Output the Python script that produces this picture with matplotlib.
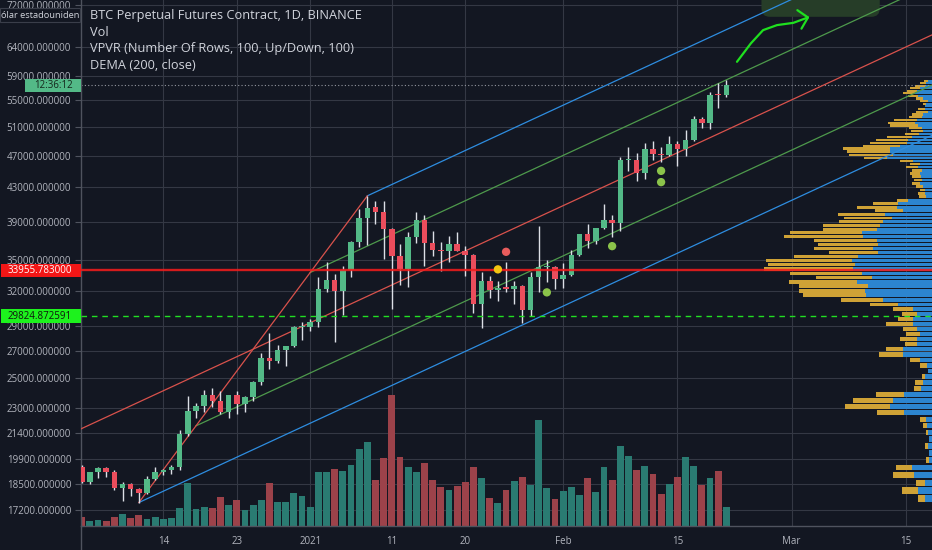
import numpy as np
import pandas as pd
import matplotlib
matplotlib.use('Agg')
import matplotlib.pyplot as plt
import matplotlib.dates as mdates
from matplotlib.patches import Rectangle, FancyBboxPatch
from matplotlib.lines import Line2D

plt.rcParams['font.family'] = ['Open Sans', 'DejaVu Sans']

# ---------------- data ----------------
dates = pd.date_range('2020-12-04', '2021-02-21', freq='D')

opens = [19422, 18650, 19148, 19359, 19166, 18324, 18541, 18254, 18036, 18808,
         19175, 19273, 19426, 21335, 22797, 23107, 23821, 23455, 22719, 23810,
         23232, 23729, 24712, 26493, 26281, 27079, 27385, 28875, 28923, 29331,
         32176, 33000, 31989, 33950, 36769, 39432, 40586, 40088, 38150, 35410,
         34049, 37371, 39145, 36737, 35995, 35825, 36622, 35901, 35468, 30852,
         32950, 32078, 32259, 32251, 32464, 30362, 33368, 34246, 34262, 33092,
         33517, 35472, 37620, 36936, 38289, 39181, 38795, 46374, 46420, 44807,
         47969, 47298, 47156, 48580, 47911, 49133, 52117, 51550, 55906, 55842]
highs = [19527, 19177, 19420, 19420, 19294, 18639, 18557, 18292, 18948, 19411,
         19349, 19570, 21560, 23800, 23285, 24171, 24295, 24102, 23837, 24100,
         23789, 24789, 26867, 28422, 27500, 27400, 28996, 29300, 29600, 33300,
         34778, 33600, 34360, 36939, 40365, 41950, 41380, 41350, 38264, 36628,
         37850, 40100, 39747, 37950, 36852, 37469, 37850, 36415, 35600, 33826,
         33456, 32944, 34802, 32921, 32557, 33783, 38531, 34933, 34342, 34717,
         35984, 37662, 38708, 38310, 40955, 39700, 46794, 48142, 47310, 48678,
         48985, 48150, 49707, 49010, 50600, 52618, 52530, 56368, 57700, 58352]
lows = [18565, 18500, 18857, 18902, 18200, 17650, 17911, 17572, 18020, 18711,
        19000, 19050, 19278, 21230, 22350, 22750, 23060, 22600, 22353, 22600,
        22703, 23433, 24500, 25700, 26101, 25880, 27320, 27850, 28624, 28946,
        31962, 27700, 29900, 33288, 36300, 36500, 38720, 35111, 30420, 32531,
        32380, 36701, 34408, 35357, 33850, 34800, 35844, 33400, 30071, 28850,
        31390, 31106, 31910, 30837, 29241, 29842, 31915, 32825, 32169, 32296,
        33418, 35362, 36161, 36570, 38215, 37351, 37988, 45020, 43727, 43994,
        46400, 46202, 47014, 45600, 47003, 48947, 50901, 50710, 53863, 55477]
closes = [18650, 19148, 19359, 19166, 18324, 18541, 18254, 18036, 18808, 19175,
          19273, 19426, 21335, 22797, 23107, 23821, 23455, 22719, 23810, 23232,
          23729, 24712, 26493, 26281, 27079, 27385, 28875, 28923, 29331, 32178,
          33000, 31988, 33949, 36769, 39432, 40582, 40088, 38150, 35404, 34051,
          37371, 39144, 36742, 35994, 35828, 36631, 35891, 35468, 30850, 32945,
          32078, 32259, 32250, 32467, 30366, 33364, 34252, 34262, 33092, 33526,
          35466, 37618, 36936, 38290, 39186, 38795, 46374, 46420, 44807, 47969,
          47287, 47153, 48577, 47911, 49133, 52119, 51552, 55906, 55841, 57408]
volume = [93, 50, 60, 50, 90, 120, 83, 110, 73, 90, 73, 83, 177, 427, 167, 187,
          177, 293, 207, 263, 160, 207, 260, 427, 237, 243, 327, 300,
          187, 543, 543, 570, 553, 610, 767, 837, 460, 677, 1317, 687, 587, 540,
          627, 460, 387, 360, 400, 443, 587, 483, 283, 227, 360, 450, 493, 407,
          1060, 380, 273,
          350, 387, 310, 483, 340, 590, 457, 800, 697, 563, 597, 520, 320, 417,
          493, 687, 600, 410, 483, 553, 193]

# volume profile (100 rows, bottom to top): up (blue) and down (yellow) volume
vpvr_up = [7, 14, 7, 18, 20, 3, 3, 4, 3, 4, 5, 6, 28, 42, 39, 28, 11, 9, 7, 4,
           5, 12, 29, 29, 15, 15, 12, 15, 19, 19, 15, 19, 34, 49, 66, 67, 64, 75, 60, 70,
           79, 77, 80, 74, 54, 59, 54, 55, 69, 70, 55, 52, 49, 40, 47, 29, 35, 34, 24, 6,
           7, 7, 9, 12, 10, 11, 12, 10, 14, 12, 19, 45, 39, 42, 42, 32, 25, 24, 20, 13,
           9, 10, 14, 17, 15, 10, 9, 4, 7, 7, 6, 4, 9, 14, 17, 15, 12, 7, 6, 4]
vpvr_down = [7, 16, 9, 21, 16, 3, 0, 3, 0, 2, 4, 6, 27, 45, 40, 28, 7, 8, 3, 0,
             7, 10, 24, 17, 12, 17, 14, 14, 27, 15, 15, 20, 28, 42, 63, 66, 69, 68, 56, 72,
             89, 87, 86, 64, 49, 59, 60, 63, 79, 72, 54, 57, 44, 48, 47, 28, 40, 25, 11, 7,
             7, 5, 7, 8, 8, 9, 10, 10, 12, 10, 13, 23, 44, 43, 47, 37, 37, 32, 25, 14,
             12, 13, 28, 27, 23, 13, 11, 12, 7, 0, 3, 8, 7, 10, 12, 10, 10, 10, 6, 4]

poc_price = 33955.783
dema_price = 29824.872591
countdown = '12:36:12'

ytick_vals = [17200, 18500, 19900, 21400, 23000, 25000, 27000, 29000, 32000,
              35000, 39000, 43000, 47000, 51000, 55000, 59000, 64000, 72000]
xtick_dates = ['2020-12-14', '2020-12-23', '2021-01-01', '2021-01-11', '2021-01-20',
               '2021-02-01', '2021-02-15', '2021-03-01', '2021-03-15']
xtick_labels = ['14', '23', '2021', '11', '20', 'Feb', '15', 'Mar', '15']

# parallel channel anchors: swing low, swing high, point on the lower rail
chan_p1 = ('2020-12-11', 17572)
chan_p2 = ('2021-01-08', 41950)
chan_p3 = ('2021-01-27', 29080)
chan_levels = [0.0, 0.25, 0.5, 0.75, 1.0]

# signal dots
sig_dates = ['2021-01-25', '2021-01-24', '2021-01-30', '2021-02-07', '2021-02-13', '2021-02-13']
sig_prices = [35790, 34050, 31900, 36370, 45030, 43615]
sig_colors = ['#e85c5c', '#f2c511', '#8bc34a', '#8bc34a', '#8bc34a', '#8bc34a']

# hand drawn arrow (days after first candle, price)
arrow_days = [80.3, 82.0, 83.5, 85.2, 87.2, 89.0]
arrow_prices = [61360, 64650, 67130, 68090, 68530, 69590]
arrow_head_days = [87.7, 89.0, 88.2]
arrow_head_prices = [71040, 69590, 67410]
target_days = (83.3, 97.8)

# ---------------- style ----------------
BG = '#131722'
GRID = '#343844'
AXC = '#4f535e'
TXT = '#b2b5be'
UPC = '#53b987'
DNC = '#eb4d5c'
VUP = '#2a7b72'
VDN = '#9c424a'
VP_BLUE = '#2c85cf'
VP_YEL = '#cfa236'
CH_COL = {0.0: '#2e8de0', 0.25: '#4e9a4c', 0.5: '#d9524c', 0.75: '#4e9a4c', 1.0: '#2e8de0'}

W, H = 932, 550
L, B = 81, 24
AW, AH = W - L, H - B

fig = plt.figure(figsize=(W / 100, H / 100), dpi=100, facecolor=BG)
ax = fig.add_axes([L / W, B / H, AW / W, AH / H], facecolor=BG)
ax.set_yscale('log')

x = mdates.date2num(dates)
x0 = x[0]
xmin = x0 - 0.09
xmax = xmin + AW / 8.16
ymin, ymax = 16440, 73120
ax.set_xlim(xmin, xmax)
ax.set_ylim(ymin, ymax)

o = np.array(opens, float)
hi = np.array(highs, float)
lo = np.array(lows, float)
c = np.array(closes, float)
up = c >= o

# volume pane (bottom quarter)
vol = np.array(volume, float)
vh = vol / vol.max() * 0.25
ax.bar(x, vh, bottom=0, width=0.84, color=[VUP if u else VDN for u in up],
       transform=ax.get_xaxis_transform(), zorder=1, linewidth=0)

# volume profile, anchored on the right edge
up_v = np.array(vpvr_up, float)
dn_v = np.array(vpvr_down, float)
nrows = len(up_v)
step = (hi.max() - lo.min()) / nrows
centers = lo.min() + (np.arange(nrows) + 0.5) * step
vp_scale = (168 / AW) / (up_v + dn_v).max()
uw = up_v * vp_scale
dw = dn_v * vp_scale
ytr = ax.get_yaxis_transform()
ax.barh(centers, uw, left=1 - uw, height=step * 0.8, color=VP_BLUE,
        transform=ytr, zorder=1.2, linewidth=0)
ax.barh(centers, dw, left=1 - uw - dw, height=step * 0.8, color=VP_YEL,
        transform=ytr, zorder=1.2, linewidth=0)

# target zone + arrow
bx0 = (x0 + target_days[0] - xmin) / (xmax - xmin)
bx1 = (x0 + target_days[1] - xmin) / (xmax - xmin)
blob = FancyBboxPatch((bx0, 0.968), bx1 - bx0, 0.08, transform=ax.transAxes,
                      boxstyle='round,pad=0,rounding_size=0.01',
                      mutation_aspect=AW / AH, fc='#263d28', ec='none', zorder=1.1)
ax.add_patch(blob)
ax.plot(x0 + np.array(arrow_days), arrow_prices, color='#1fe01f', lw=1.6,
        solid_capstyle='round', solid_joinstyle='round', zorder=8)
ax.plot(x0 + np.array(arrow_head_days), arrow_head_prices, color='#1fe01f', lw=1.6,
        solid_capstyle='round', solid_joinstyle='round', zorder=8)

# channel
cx1 = mdates.date2num(pd.Timestamp(chan_p1[0])); cl1 = np.log(chan_p1[1])
cx2 = mdates.date2num(pd.Timestamp(chan_p2[0])); cl2 = np.log(chan_p2[1])
cx3 = mdates.date2num(pd.Timestamp(chan_p3[0])); cl3 = np.log(chan_p3[1])
slope = (cl3 - cl1) / (cx3 - cx1)
for f in chan_levels:
    sx = cx1 + f * (cx2 - cx1)
    sl = cl1 + f * (cl2 - cl1)
    start = xmin if f == 0.5 else sx
    xs = np.array([start, xmax])
    ax.plot(xs, np.exp(sl + slope * (xs - sx)), color=CH_COL[f], lw=0.9, zorder=3)
ax.plot([cx1, cx2], [chan_p1[1], chan_p2[1]], color=CH_COL[0.5], lw=0.9, zorder=3)

# last price line
ax.axhline(c[-1], color='#9598a1', lw=0.8, ls=(0, (1, 2)), zorder=2)

# candles
body_lo = np.minimum(o, c)
body_hi = np.maximum(np.maximum(o, c), body_lo * 1.003)
ax.vlines(x, lo, hi, color='#dcdfe6', lw=1.0, zorder=4)
ax.bar(x, body_hi - body_lo, bottom=body_lo, width=0.68,
       color=[UPC if u else DNC for u in up], linewidth=0, zorder=5)

# horizontal levels
ax.axhline(poc_price, color='#f01c1c', lw=1.7, alpha=0.88, zorder=6)
ax.axhline(dema_price, color='#22e022', lw=1.0, ls=(0, (4, 3.5)), zorder=6)

# signal dots
sx_d = mdates.date2num(pd.to_datetime(sig_dates))
ax.scatter(sx_d, sig_prices, s=36, c=sig_colors, linewidths=0, zorder=7)

# axes styling
ax.set_yticks(ytick_vals, labels=[f'{v:.6f}' for v in ytick_vals])
ax.set_xticks(mdates.date2num(pd.to_datetime(xtick_dates)), labels=xtick_labels)
ax.minorticks_off()
ax.tick_params(axis='y', colors=AXC, labelcolor=TXT, labelsize=7, length=4, width=0.8, pad=3)
ax.tick_params(axis='x', length=0, labelcolor=TXT, labelsize=7, pad=7)
ax.grid(True, color=GRID, lw=0.8)
ax.set_axisbelow(True)
for s in ['top', 'right']:
    ax.spines[s].set_visible(False)
for s in ['left', 'bottom']:
    ax.spines[s].set_color(AXC)
    ax.spines[s].set_linewidth(1.0)
fig.add_artist(Line2D([L / W, L / W], [0, B / H], color=AXC, lw=1.0))

# price tags on the axis
px_per_ln = AH / np.log(ymax / ymin)


def price_tag(price, text, fc, tc, x0px, x1px, tx_px, ha):
    r = np.exp(6.7 / px_per_ln)
    ax.add_patch(Rectangle(((x0px - L) / AW, price / r), (x1px - x0px) / AW,
                           price * r - price / r, transform=ytr, fc=fc, ec='none',
                           clip_on=False, zorder=20))
    ax.text((tx_px - L) / AW, price, text, transform=ytr, color=tc, fontsize=7,
            ha=ha, va='center', clip_on=False, zorder=21)


price_tag(poc_price, f'{poc_price:.6f}', '#f21616', '#ffffff', 1, 81, 72, 'right')
price_tag(dema_price, f'{dema_price:.6f}', '#1df21d', '#10140f', 1, 81, 72, 'right')
price_tag(c[-1], countdown, '#53b987', '#14261c', 25, 81, 53, 'center')

# currency label and legend
fig.add_artist(Rectangle((0, 1 - 22 / H), 80 / W, 14 / H, transform=fig.transFigure,
                         fc=BG, ec='#3a3e4a', lw=0.8, zorder=5))
fig.text(1 / W, 1 - 15 / H, 'ólar estadouniden', color='#d1d4dc', fontsize=6.7,
         va='center', ha='left', zorder=6)
legend_lines = ['BTC Perpetual Futures Contract, 1D, BINANCE', 'Vol',
                'VPVR (Number Of Rows, 100, Up/Down, 100)', 'DEMA (200, close)']
for i, t in enumerate(legend_lines):
    fig.text(90 / W, 1 - (16 + 16.4 * i) / H, t, color='#d1d4dc', fontsize=9.2,
             va='center', ha='left')

fig.savefig('out.png', dpi=100, facecolor=BG)
